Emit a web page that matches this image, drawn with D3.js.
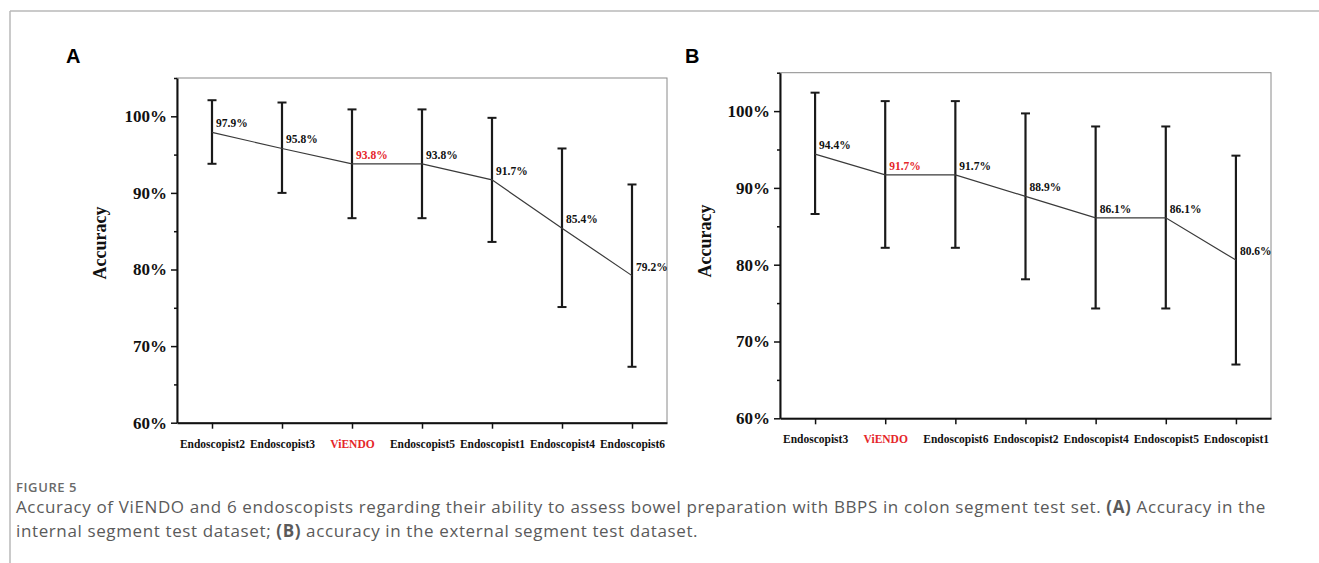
<!DOCTYPE html>
<html>
<head>
<meta charset="utf-8">
<script src="https://cdn.jsdelivr.net/npm/d3@7"></script>
<style>
  body { margin: 0; background: #fff; }
  svg { display: block; }
</style>
</head>
<body>
<div id="chart"></div>
<script>
// panel A: internal segment test set
var namesA = ["Endoscopist2", "Endoscopist3", "ViENDO", "Endoscopist5", "Endoscopist1", "Endoscopist4", "Endoscopist6"];
var accA = [97.9, 95.8, 93.8, 93.8, 91.7, 85.4, 79.2];
var hiA = [102.1, 101.8, 100.9, 100.9, 99.8, 95.8, 91.1];
var loA = [93.8, 90.0, 86.7, 86.7, 83.6, 75.1, 67.3];

// panel B: external segment test set
var namesB = ["Endoscopist3", "ViENDO", "Endoscopist6", "Endoscopist2", "Endoscopist4", "Endoscopist5", "Endoscopist1"];
var accB = [94.4, 91.7, 91.7, 88.9, 86.1, 86.1, 80.6];
var hiB = [102.4, 101.3, 101.3, 99.7, 98.0, 98.0, 94.2];
var loB = [86.6, 82.2, 82.2, 78.1, 74.3, 74.3, 67.0];

var yTicks = [60, 70, 80, 90, 100];
var yMinor = [65, 75, 85, 95, 105];
var yDomain = [60, 105];

var width = 1319, height = 563;
var serif = "'Liberation Serif', 'Times New Roman', serif";
var red = "#e5262a";

var svg = d3.select("#chart").append("svg")
    .attr("width", width)
    .attr("height", height);

// page border (top and left rules)
svg.append("line").attr("x1", 10).attr("x2", width).attr("y1", 11).attr("y2", 11)
    .attr("stroke", "#b8b8b8").attr("stroke-width", 1.5);
svg.append("line").attr("x1", 10).attr("x2", 10).attr("y1", 11).attr("y2", height)
    .attr("stroke", "#b8b8b8").attr("stroke-width", 1.5);

function drawPanel(p) {
    var g = svg.append("g");

    var x = d3.scalePoint()
        .domain(p.names)
        .range([p.left, p.right])
        .padding(0.5);
    var y = d3.scaleLinear()
        .domain(yDomain)
        .range([p.bottom, p.top]);

    // panel letter
    g.append("text")
        .attr("x", p.letterX).attr("y", 63)
        .attr("font-family", "'Liberation Sans', Arial, sans-serif")
        .attr("font-weight", "bold")
        .attr("font-size", 20)
        .text(p.letter);

    // thin frame (top / right)
    g.append("rect")
        .attr("x", p.left).attr("y", p.top)
        .attr("width", p.right - p.left).attr("height", p.bottom - p.top)
        .attr("fill", "none")
        .attr("stroke", "#8a8a8a")
        .attr("stroke-width", 1);

    // y axis
    var yAxis = g.append("g")
        .attr("transform", "translate(" + p.left + ",0)")
        .call(d3.axisLeft(y).tickValues(yTicks).tickSize(6).tickSizeOuter(0).tickPadding(4)
            .tickFormat(function(d) { return d + "%"; }));
    yAxis.selectAll("text")
        .attr("font-family", serif).attr("font-weight", "bold").attr("font-size", 17).attr("fill", "#111");
    yAxis.select(".domain").attr("stroke", "#111").attr("stroke-width", 2);
    yAxis.selectAll(".tick line").attr("stroke", "#111").attr("stroke-width", 1.5);

    var yMin = g.append("g")
        .attr("transform", "translate(" + p.left + ",0)")
        .call(d3.axisLeft(y).tickValues(yMinor).tickSize(3).tickSizeOuter(0).tickFormat(""));
    yMin.select(".domain").remove();
    yMin.selectAll(".tick line").attr("stroke", "#111").attr("stroke-width", 1.5);

    // x axis
    var xAxis = g.append("g")
        .attr("transform", "translate(0," + p.bottom + ")")
        .call(d3.axisBottom(x).tickSize(6).tickSizeOuter(0).tickPadding(11));
    xAxis.selectAll("text")
        .attr("font-family", serif).attr("font-weight", "bold").attr("font-size", 11.5)
        .attr("fill", function(d) { return d == "ViENDO" ? red : "#111"; });
    xAxis.select(".domain").attr("stroke", "#111").attr("stroke-width", 2);
    xAxis.selectAll(".tick line").attr("stroke", "#111").attr("stroke-width", 1.5);

    // y label
    g.append("text")
        .attr("transform", "translate(" + p.titleX + "," + p.titleY + ") rotate(-90)")
        .attr("text-anchor", "middle")
        .attr("font-family", serif).attr("font-weight", "bold").attr("font-size", 18)
        .attr("fill", "#111")
        .text("Accuracy");

    // error bars
    var bars = g.append("g").selectAll("g")
        .data(p.names)
        .enter().append("g");
    bars.append("line")
        .attr("x1", function(d) { return x(d); })
        .attr("x2", function(d) { return x(d); })
        .attr("y1", function(d, i) { return y(p.lo[i]); })
        .attr("y2", function(d, i) { return y(p.hi[i]); })
        .attr("stroke", "#1a1a1a").attr("stroke-width", 2.2);
    bars.append("line")
        .attr("x1", function(d) { return x(d) - 4.5; })
        .attr("x2", function(d) { return x(d) + 4.5; })
        .attr("y1", function(d, i) { return y(p.hi[i]); })
        .attr("y2", function(d, i) { return y(p.hi[i]); })
        .attr("stroke", "#1a1a1a").attr("stroke-width", 2);
    bars.append("line")
        .attr("x1", function(d) { return x(d) - 4.5; })
        .attr("x2", function(d) { return x(d) + 4.5; })
        .attr("y1", function(d, i) { return y(p.lo[i]); })
        .attr("y2", function(d, i) { return y(p.lo[i]); })
        .attr("stroke", "#1a1a1a").attr("stroke-width", 2);

    // the mean line
    g.append("path")
        .datum(p.acc)
        .attr("fill", "none")
        .attr("stroke", "#3a3a3a")
        .attr("stroke-width", 1.2)
        .attr("d", d3.line()
            .x(function(d, i) { return x(p.names[i]); })
            .y(function(d) { return y(d); }));

    // value labels
    g.append("g").selectAll("text")
        .data(p.acc)
        .enter().append("text")
        .attr("x", function(d, i) { return x(p.names[i]) + 4; })
        .attr("y", function(d) { return y(d) - 5; })
        .attr("font-family", serif).attr("font-weight", "bold").attr("font-size", 11.5)
        .attr("fill", function(d, i) { return p.names[i] == "ViENDO" ? red : "#111"; })
        .text(function(d) { return d3.format(".1f")(d) + "%"; });
}

drawPanel({letter: "A", letterX: 66, names: namesA, acc: accA, hi: hiA, lo: loA,
    left: 177, right: 667, top: 78, bottom: 422.7, titleX: 106, titleY: 243});
drawPanel({letter: "B", letterX: 685, names: namesB, acc: accB, hi: hiB, lo: loB,
    left: 780, right: 1271, top: 72.7, bottom: 418.3, titleX: 711, titleY: 241});

// caption
var cap = svg.append("g")
    .attr("font-family", "'Open Sans', 'Noto Sans', sans-serif")
    .attr("fill", "#5a5a5a");
cap.append("text")
    .attr("x", 16).attr("y", 492)
    .attr("font-size", 13).attr("font-weight", 600).attr("fill", "#6a6a6a")
    .attr("letter-spacing", 0.6)
    .text("FIGURE 5");
var line1 = cap.append("text").attr("x", 16).attr("y", 513)
    .attr("font-size", 17).attr("letter-spacing", 0.62);
line1.append("tspan").text("Accuracy of ViENDO and 6 endoscopists regarding their ability to assess bowel preparation with BBPS in colon segment test set. ");
line1.append("tspan").attr("font-weight", "bold").text("(A)");
line1.append("tspan").text(" Accuracy in the");
var line2 = cap.append("text").attr("x", 16).attr("y", 537)
    .attr("font-size", 17).attr("letter-spacing", 0.62);
line2.append("tspan").text("internal segment test dataset; ");
line2.append("tspan").attr("font-weight", "bold").text("(B)");
line2.append("tspan").text(" accuracy in the external segment test dataset.");
</script>
</body>
</html>
